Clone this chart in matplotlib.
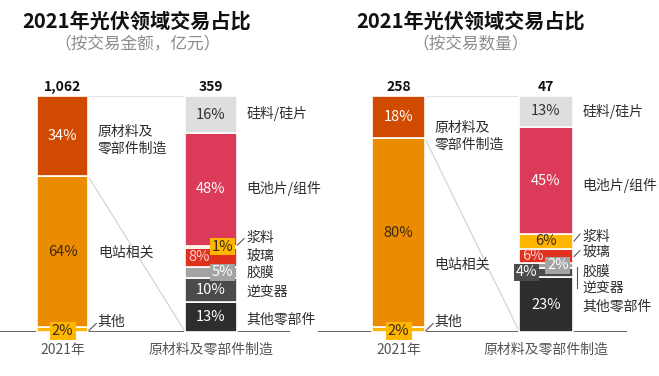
import matplotlib
matplotlib.use("Agg")
import matplotlib.pyplot as plt
import numpy as np

plt.rcParams['font.family'] = ['Noto Sans CJK SC', 'DejaVu Sans']

#### data ####
title = '2021年光伏领域交易占比'
subtitles = ['（按交易金额，亿元）', '（按交易数量）']
totals = ['1,062', '359', '258', '47']
xlabels = ['2021年', '原材料及零部件制造']

# bar 1 (top -> bottom)
cat1 = ['原材料及\n零部件制造', '电站相关', '其他']
amount_bar1 = [34, 64, 2]
count_bar1 = [18, 80, 2]

# bar 2 (top -> bottom)
cat2 = ['硅料/硅片', '电池片/组件', '浆料', '玻璃', '胶膜', '逆变器', '其他零部件']
amount_bar2 = [16, 48, 1, 8, 5, 10, 13]
count_bar2 = [13, 45, 6, 6, 2, 4, 23]

#### styles ####
col1 = ['#D04A02', '#EB8C00', '#FFB600']
col2 = ['#DEDEDE', '#DB3A58', '#FFB600', '#E0301E', '#A3A3A3', '#4B4B4B', '#2D2D2D']
txt1 = ['white', '#3a2a10', '#3a2a10']
txt2 = ['#333333', 'white', '#3a2a10', '#FFD0D0', 'white', 'white', 'white']
TXT = '#2d2d2d'

fig = plt.figure(figsize=(6.59, 3.76), dpi=100)
W, H = 659, 376


def add_ax(x0, x1):
    return fig.add_axes([x0 / W, 44 / H, (x1 - x0) / W, 236 / H])


def stack(vals):
    v = np.array(vals, dtype=float)[::-1]
    v = v / v.sum() * 100
    bottoms = np.concatenate([[0], np.cumsum(v)[:-1]])
    return v, bottoms   # bottom-up order


def panel(ax, b1, b2, tot, xlim, width, lab_y1, lab_y2, boxes, slashes):
    ax.set_xlim(*xlim)
    ax.set_ylim(0, 100)
    ax.axis('off')
    ax.axhline(0, color='#555555', lw=1.3, zorder=1)

    h1, bot1 = stack(b1)
    h2, bot2 = stack(b2)
    c1 = col1[::-1]
    c2 = col2[::-1]
    ax.bar([0] * len(h1), h1, bottom=bot1, width=width, color=c1,
           edgecolor='white', linewidth=1.2, zorder=2)
    ax.bar([1] * len(h2), h2, bottom=bot2, width=width, color=c2,
           edgecolor='white', linewidth=1.2, zorder=2)

    # connector lines
    ax.plot([width / 2, 1 - width / 2], [100, 100], color='#e3e3e3', lw=0.8, zorder=1)
    ax.plot([width / 2, 1 - width / 2], [bot1[-1], 0], color='#d0d0d0', lw=0.8, zorder=1)

    # totals and x labels
    ax.text(0, 104, tot[0], ha='center', va='center', fontsize=10, fontweight='bold', color='#111111')
    ax.text(1, 104, tot[1], ha='center', va='center', fontsize=10, fontweight='bold', color='#111111')
    ax.text(0, -7.5, xlabels[0], ha='center', va='center', fontsize=10, color='#555555', clip_on=False)
    ax.text(1, -7.5, xlabels[1], ha='center', va='center', fontsize=10, color='#555555', clip_on=False)

    # bar 1 values
    n1 = len(b1)
    for i, v in enumerate(b1):
        j = n1 - 1 - i
        y = bot1[j] + h1[j] / 2
        kw = {}
        if v <= 3:
            y = 0.3
            kw['bbox'] = dict(boxstyle='square,pad=0.15', fc=col1[i], ec='none')
        ax.text(0, y, f'{v}%', ha='center', va='center', fontsize=10.5, color=txt1[i], zorder=4, **kw)
        ax.text(width / 2 + 0.065, lab_y1[i], cat1[i], ha='left', va='center',
                fontsize=10, color=TXT, linespacing=1.25)

    # bar 2 values
    n2 = len(b2)
    for i, v in enumerate(b2):
        j = n2 - 1 - i
        y = bot2[j] + h2[j] / 2
        dx, boxed = boxes.get(i, (0, False))
        kw = {}
        if boxed:
            kw['bbox'] = dict(boxstyle='square,pad=0.12', fc=col2[i], ec='none')
        ax.text(1 + dx, y, f'{v}%', ha='center', va='center', fontsize=10.5,
                color=txt2[i], zorder=4, **kw)
        ax.text(1 + width / 2 + 0.065, lab_y2[i], cat2[i], ha='left', va='center',
                fontsize=10, color=TXT)

    # small leader strokes
    for (xa, ya, xb, yb) in slashes:
        ax.plot([xa, xb], [ya, yb], color='#555555', lw=0.8, zorder=3, clip_on=False)


# left panel
axl = add_ax(0, 290)
wl = 0.345
panel(axl, amount_bar1, amount_bar2, totals[:2], (-0.421, 1.532), wl,
      [81.4, 33.5, 4.2],
      [92.8, 61.0, 39.8, 32.2, 25.0, 17.0, 5.1],
      {2: (0.08, True), 3: (-0.08, False), 4: (0.08, True)},
      [(wl / 2 + 0.005, 0.6, wl / 2 + 0.055, 3.6),
       (1 + wl / 2 + 0.005, 36.8, 1 + wl / 2 + 0.05, 39.6)])

# right panel
axr = add_ax(318, 627)
wr = 0.36
panel(axr, count_bar1, count_bar2, totals[2:], (-0.546, 1.549), wr,
      [83.0, 28.4, 4.2],
      [93.5, 62.3, 40.3, 33.9, 25.4, 18.6, 10.6],
      {3: (-0.09, False), 4: (0.08, True), 5: (-0.13, True)},
      [(wr / 2 + 0.005, 0.6, wr / 2 + 0.055, 3.6),
       (1 + wr / 2 + 0.01, 38.5, 1 + wr / 2 + 0.05, 41.5),
       (1 + wr / 2 + 0.01, 32.0, 1 + wr / 2 + 0.05, 34.5),
       (1 + wr / 2 + 0.03, 27.5, 1 + wr / 2 + 0.03, 18.5)])

# titles
for cx, sub in zip([137, 471], subtitles):
    fig.text(cx / W, 1 - 21 / H, title, ha='center', va='center', fontsize=14.5,
             fontweight='bold', color='#111111')
    fig.text(cx / W, 1 - 45 / H, sub, ha='center', va='center', fontsize=12,
             color='#8c8c8c')

fig.savefig('out.png', dpi=100)
